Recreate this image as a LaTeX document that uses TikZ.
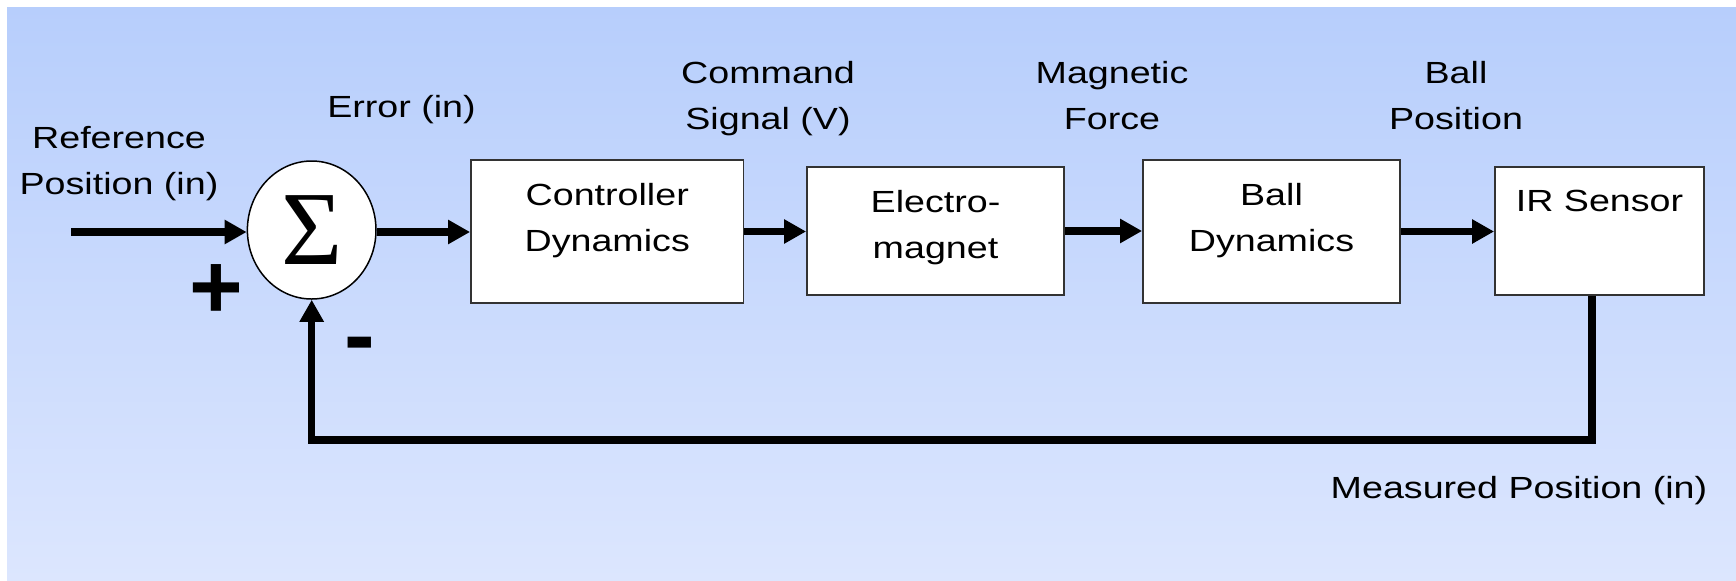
\documentclass[tikz,border=0pt]{standalone}
\usepackage{fontspec}
\setmainfont{Liberation Sans}[FakeStretch=1.23]
\newfontfamily\pmfont{Liberation Sans}
\newfontfamily\sigmafont{Liberation Serif}
\usetikzlibrary{arrows.meta,shapes.geometric}
\definecolor{bgtop}{RGB}{183,206,252}
\definecolor{bgbot}{RGB}{220,230,254}
\begin{document}
\begin{tikzpicture}[x=0.5pt,y=-0.5pt,
  txt/.style={font=\fontsize{15.3}{23}\selectfont, align=center, inner sep=0pt, anchor=north},
  blk/.style={draw=black!80, line width=0.9pt, fill=white, rectangle, inner sep=0pt},
  blklabel/.style={txt, yshift=-11.75pt},
  sig/.style={line width=3.7pt, line join=miter, -{Triangle[length=11pt,width=11.5pt]}},
  pm/.style={font=\pmfont\bfseries\fontsize{46}{46}\selectfont, inner sep=0pt, anchor=base}]
\useasboundingbox (0,0) rectangle (1736,580);
\fill[top color=bgtop, bottom color=bgbot] (7,7) rectangle (1736,580);

% summing junction
\node[ellipse, draw=black, line width=0.75pt, fill=white, minimum width=64.3pt,
  minimum height=69pt, inner sep=0pt, font=\sigmafont\fontsize{52.6}{52.6}\selectfont]
  (sum) at (311.7,230) {\raisebox{-1.8pt}{Σ}};

% blocks
\node[blk, minimum width=136.25pt, minimum height=71.5pt,
  label={[blklabel]north:Controller\\Dynamics}] (ctrl) at (607.25,231.5) {};
\node[blk, minimum width=128.5pt, minimum height=64pt,
  label={[blklabel]north:Electro-\\magnet}] (em) at (935.5,231) {};
\node[blk, minimum width=128.5pt, minimum height=71.5pt,
  label={[blklabel]north:Ball\\Dynamics}] (ball) at (1271.5,231.5) {};
\node[blk, minimum width=104.5pt, minimum height=64pt,
  label={[blklabel]north:IR Sensor}] (ir) at (1599.5,231) {};

% signal labels
\node[txt] (lref) at (119,126) {Reference\\Position (in)};
\node[txt] (lerr) at (401.5,95) {Error (in)};
\node[txt] (lcmd) at (768,61) {Command\\Signal (V)};
\node[txt] (lmag) at (1112,61) {Magnetic\\Force};
\node[txt] (lpos) at (1456,61) {Ball\\Position};
\node[txt] (lmeas) at (1519,476) {Measured Position (in)};

% signs
\node[pm] (plus) at (216.5,318) {+};
\node[pm] (minus) at (359.5,366) {-};

% connectors
\coordinate (in) at (71,232);
\coordinate (fb) at (1592,440);
\draw[sig] (in) -- (in -| sum.west);
\draw[sig] (sum.east |- in) -- (in -| ctrl.west);
\draw[sig] (ctrl.east) -- (ctrl.east -| em.west);
\draw[sig] (em.east) -- (em.east -| ball.west);
\draw[sig] (ball.east) -- (ball.east -| ir.west);
\draw[sig] (ir.south -| fb) -- (fb) -| (sum.south);
\end{tikzpicture}
\end{document}
